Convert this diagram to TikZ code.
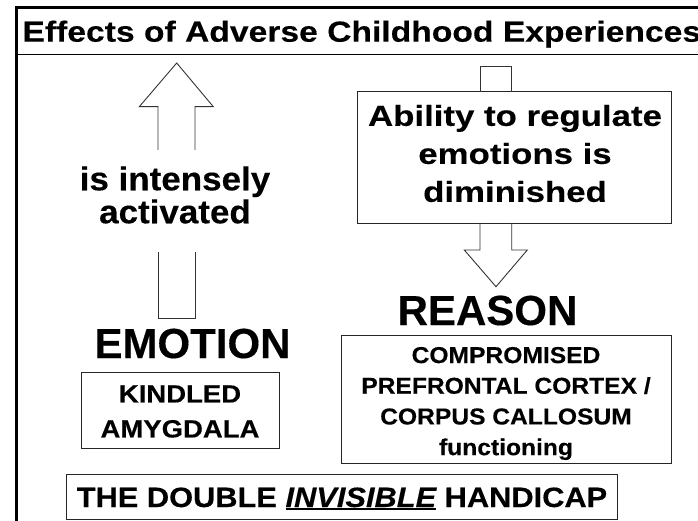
\documentclass[tikz,border=0pt]{standalone}
\usepackage{fontspec}
\setmainfont{Liberation Sans}[FakeBold=0.3]
% horizontally widened cuts of the same face
\newfontfamily\titlefont{Liberation Sans}[FakeStretch=1.16, FakeBold=0.3]
\newfontfamily\midfont{Liberation Sans}[FakeStretch=1.06, FakeBold=0.3]
\newfontfamily\widefont{Liberation Sans}[FakeStretch=1.20, FakeBold=0.3]
\newfontfamily\boxfont{Liberation Sans}[FakeStretch=1.10, FakeBold=0.3]
\newfontfamily\smallfont{Liberation Sans}[FakeStretch=1.07, FakeBold=0.3]
% heavy underline
\newcommand\thickul[1]{\setbox0\hbox{#1}\rlap{\rule[-3pt]{\wd0}{1.9pt}}\box0\relax}

\begin{document}
\begin{tikzpicture}[x=1pt,y=-1pt,
  every node/.style={inner sep=0pt, outer sep=0pt},
  frameline/.style={line width=2.7pt, black, line join=miter},
  ruleline/.style={line width=1.4pt, black},
  blockarrow/.style={draw=black!80, line width=0.9pt, line join=miter},
  panel/.style={draw=black!85, line width=1pt, fill=white},
  txt/.style={align=center, text=black}]

\useasboundingbox (0,0) rectangle (698,521);
\clip (0,0) rectangle (698,521);

% outer frame and title rule
\draw[frameline] (16.5,525) -- (16.5,7.3) -- (702,7.3);
\draw[ruleline] (16.5,54.5) -- (702,54.5);

\node[anchor=base west, font=\titlefont\bfseries\fontsize{29pt}{34pt}\selectfont]
  (title) at (22.5,41.7) {Effects of Adverse Childhood Experiences};

% upward block arrow (emotion), split around its caption
\coordinate (upTip) at (176.7,63);
\draw[blockarrow] (158,150) -- (158,106.7) -- (139.3,106.7) -- (upTip)
  -- (213.3,106.7) -- (195,106.7) -- (195,150);
\draw[blockarrow] (158,251.7) -- (158,318.3) -- (195,318.3) -- (195,251.7);
\node[txt, font=\midfont\bfseries\fontsize{33pt}{33pt}\selectfont]
  (activated) at (175,195) {is intensely\\activated};

% downward block arrow (reason) through the regulation box
\node[panel, minimum width=314.4, minimum height=131.6] (ability) at (514.5,157.5) {};
\draw[blockarrow] (480,0 |- ability.north) -- (480,66.7) -- (511.7,66.7)
  -- (511.7,0 |- ability.north);
\coordinate (downTip) at (496,286.7);
\draw[blockarrow] (480,0 |- ability.south) -- (480,250) -- (464.3,250) -- (downTip)
  -- (527.3,250) -- (511.7,250) -- (511.7,0 |- ability.south);
\node[txt, font=\widefont\bfseries\fontsize{29pt}{38pt}\selectfont]
  (abilitytext) at (515,153.5) {Ability to regulate\\emotions is\\diminished};

% headings
\node[anchor=base, font=\bfseries\fontsize{42pt}{48pt}\selectfont]
  (reason) at (487.5,325) {REASON};
\node[anchor=base, font=\bfseries\fontsize{42pt}{48pt}\selectfont]
  (emotion) at (192.5,358) {EMOTION};

% amygdala box
\node[panel, minimum width=198, minimum height=76] (kindled) at (180,410) {};
\node[txt, font=\boxfont\bfseries\fontsize{25pt}{35pt}\selectfont]
  (kindledtext) at (180,411.5) {KINDLED\\AMYGDALA};

% cortex box
\node[panel, minimum width=330, minimum height=128] (cortex) at (506,399) {};
\node[txt, font=\smallfont\bfseries\fontsize{23pt}{30.7pt}\selectfont]
  (cortextext) at (506,403.5)
  {COMPROMISED\\PREFRONTAL CORTEX /\\CORPUS CALLOSUM\\functioning};

% closing banner
\node[panel, minimum width=551, minimum height=45] (handicap) at (341.5,496.5) {};
\node[anchor=base, font=\boxfont\bfseries\fontsize{28pt}{34pt}\selectfont]
  (handicaptext) at (342,507)
  {THE DOUBLE \thickul{\itshape INVISIBLE} HANDICAP};

\end{tikzpicture}
\end{document}
